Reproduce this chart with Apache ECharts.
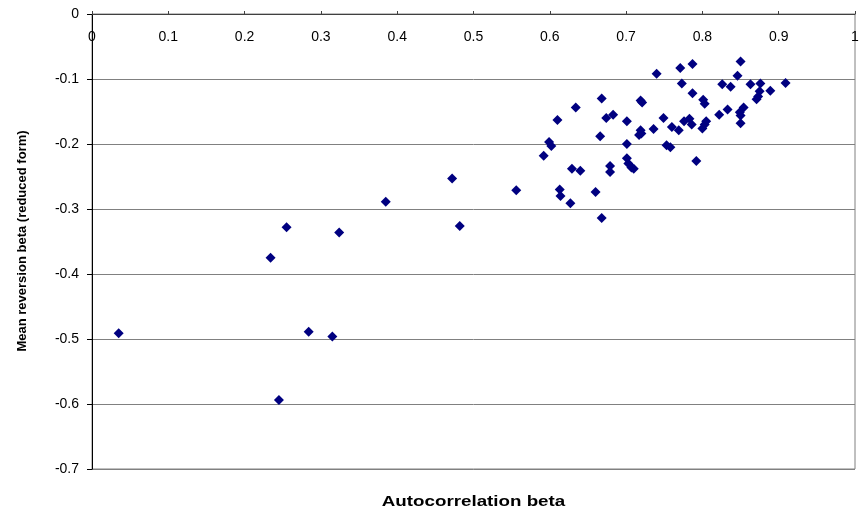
<!DOCTYPE html>
<html><head><meta charset="utf-8">
<script src="https://cdn.jsdelivr.net/npm/echarts@6/dist/echarts.min.js"></script>
<style>html,body{margin:0;padding:0;background:#fff}#c{width:867px;height:516px}</style>
</head><body><div id="c"></div>
<script>
const xLabel = "Autocorrelation beta";
const yLabel = "Mean reversion beta (reduced form)";
const autocorr = [0.035,0.234,0.255,0.245,0.284,0.315,0.324,0.385,0.472,0.482,0.556,0.592,0.599,0.602,0.610,0.613,0.614,0.627,0.629,0.634,0.640,0.660,0.666,0.668,0.668,0.674,0.679,0.679,0.683,0.701,0.701,0.701,0.703,0.707,0.710,0.717,0.719,0.719,0.720,0.721,0.736,0.740,0.749,0.753,0.758,0.760,0.769,0.771,0.773,0.776,0.783,0.786,0.787,0.787,0.792,0.800,0.801,0.803,0.803,0.805,0.822,0.826,0.833,0.837,0.846,0.849,0.850,0.850,0.850,0.854,0.863,0.871,0.873,0.875,0.876,0.889,0.909];
const meanRev = [-0.491,-0.375,-0.328,-0.594,-0.489,-0.496,-0.336,-0.289,-0.253,-0.326,-0.271,-0.218,-0.197,-0.203,-0.163,-0.270,-0.280,-0.291,-0.238,-0.144,-0.241,-0.274,-0.188,-0.130,-0.314,-0.160,-0.234,-0.243,-0.155,-0.165,-0.200,-0.222,-0.230,-0.236,-0.238,-0.186,-0.133,-0.179,-0.184,-0.136,-0.177,-0.092,-0.160,-0.202,-0.205,-0.174,-0.179,-0.083,-0.107,-0.165,-0.161,-0.170,-0.077,-0.122,-0.226,-0.176,-0.132,-0.138,-0.170,-0.165,-0.155,-0.108,-0.147,-0.112,-0.095,-0.151,-0.073,-0.156,-0.168,-0.144,-0.108,-0.131,-0.127,-0.119,-0.107,-0.118,-0.106];
const points = autocorr.map((x, i) => [x, meanRev[i]]);
const fmt = v => String(+v.toFixed(1));
const FONT = 'Liberation Sans, Arial, sans-serif';
const chart = echarts.init(document.getElementById('c'));
chart.setOption({
  animation: false,
  backgroundColor: '#fff',
  textStyle: {fontFamily: FONT},
  grid: {left: 92, right: 12, top: 14, bottom: 47, show: true, borderColor: '#808080', borderWidth: 1},
  graphic: [
    {type: 'text', x: 473.5, y: 502, scaleX: 1.34, scaleY: 1,
      style: {text: xLabel, fill: '#000', font: 'bold 14px "Liberation Sans", Arial, sans-serif', align: 'center', verticalAlign: 'middle'}},
    {type: 'text', x: 22.5, y: 241, rotation: Math.PI / 2,
      style: {text: yLabel, fill: '#000', font: 'bold 13px "Liberation Sans", Arial, sans-serif', align: 'center', verticalAlign: 'middle'}}
  ],
  xAxis: {type: 'value', position: 'top', min: 0, max: 1, interval: 0.1,
    axisLine: {show: true, onZero: false, lineStyle: {color: '#404040', width: 1}},
    axisTick: {show: true, length: 3, lineStyle: {color: '#404040'}},
    axisLabel: {inside: true, margin: 16, color: '#000', fontSize: 14, formatter: fmt},
    splitLine: {show: false}},
  yAxis: {type: 'value', min: -0.7, max: 0, interval: 0.1,
    axisLine: {show: true, onZero: false, lineStyle: {color: '#000', width: 1}},
    axisTick: {show: true, length: 5, lineStyle: {color: '#000'}},
    axisLabel: {margin: 13, color: '#000', fontSize: 14, formatter: fmt},
    splitLine: {show: true, lineStyle: {color: '#808080', width: 1}}},
  series: [{type: 'scatter', data: points, symbol: 'diamond', symbolSize: 10,
    itemStyle: {color: '#000080', opacity: 1}}]
});
</script></body></html>
